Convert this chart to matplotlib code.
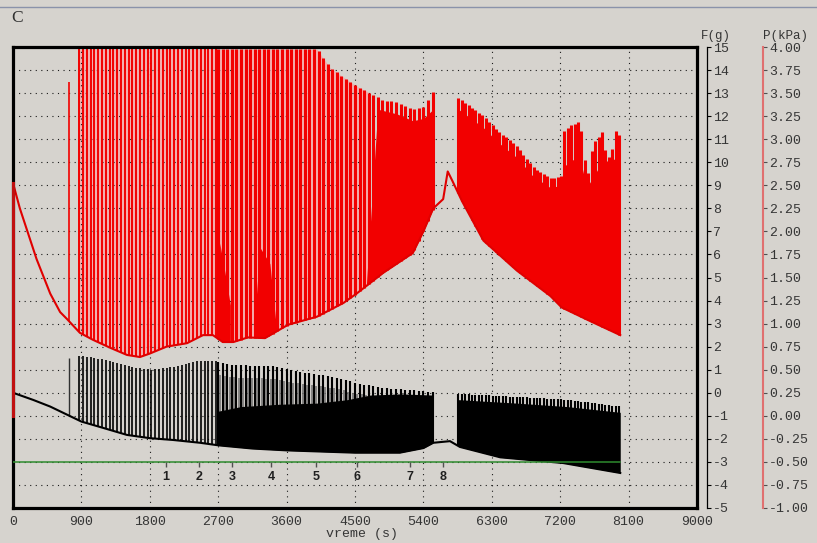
import numpy as np
import matplotlib
matplotlib.use('Agg')
import matplotlib.pyplot as plt
from matplotlib.lines import Line2D

plt.rcParams['axes.unicode_minus'] = False

# ---------------- data ----------------
x_ticks = [0, 900, 1800, 2700, 3600, 4500, 5400, 6300, 7200, 8100, 9000]
x_ticklabels = ['0', '900', '1800', '2700', '3600', '4500', '5400', '6300', '7200', '8100', '9000']
f_ticks = list(range(-5, 16))
p_ticks = [-1.0, -0.75, -0.5, -0.25, 0.0, 0.25, 0.5, 0.75, 1.0, 1.25, 1.5, 1.75,
           2.0, 2.25, 2.5, 2.75, 3.0, 3.25, 3.5, 3.75, 4.0]

# red trace (pressure), expressed on the F scale (-5..15 g  <->  -1..4 kPa)
red_lo_t = [0, 90, 180, 310, 490, 620, 710, 880, 1050, 1280, 1500, 1670, 1800, 2020,
            2290, 2500, 2630, 2760, 2900, 3090, 3315, 3620, 4000, 4350, 4520, 4870,
            5260, 5400, 5530, 5660, 5720, 5780, 5910, 6190, 6630, 7070, 7220, 7600, 7990]
red_lo = [9.1, 8.0, 7.1, 5.8, 4.3, 3.5, 3.2, 2.6, 2.3, 1.95, 1.64, 1.55, 1.7, 2.0,
          2.15, 2.5, 2.5, 2.2, 2.2, 2.4, 2.37, 2.95, 3.3, 3.9, 4.3, 5.2,
          6.06, 7.0, 8.0, 8.4, 9.6, 9.2, 8.3, 6.6, 5.3, 4.2, 3.7, 3.1, 2.5]
red_hi_t = [870, 4000, 4170, 4520, 4870, 5050, 5260, 5400, 5550, 5620, 5860, 6190, 6370,
            6630, 6840, 7070, 7220, 7240, 7330, 7450, 7500, 7550, 7630, 7750, 7820,
            7880, 7945, 7990]
red_hi = [14.9, 14.9, 14.1, 13.3, 12.7, 12.6, 12.3, 12.4, 13.2, 13.0, 12.8, 12.0, 11.4,
          10.7, 9.8, 9.3, 9.4, 11.3, 11.6, 11.75, 11.1, 9.1, 10.8, 11.3, 10.1,
          10.5, 11.6, 11.0]
# top of the saturated (solid) red band
red_core_t = [2700, 2720, 2790, 2860, 3170, 3250, 3380, 3460, 4650, 4800, 5050, 5260,
              5400, 5530, 5860, 6190, 6370, 6630, 6840, 7070, 7220, 7240, 7450, 7550,
              7750, 7990]
red_core = [2.4, 6.5, 5.2, 3.8, 2.8, 6.3, 5.6, 3.0, 4.7, 12.3, 12.1, 11.8,
            11.9, 12.3, 12.3, 11.5, 10.9, 10.2, 9.4, 8.9, 9.0, 9.8, 10.3, 8.9,
            10.0, 10.2]
red_solid_seg = [(2700, 2860), (3170, 3460), (4650, 5530), (5860, 7990)]
red_start_bottom = -1.0          # jump at t = 0
first_spike_t = 740
red_first_spike = 13.5
blk_first_spike = 1.5

# black trace (force)
blk_lo_t = [0, 265, 490, 900, 1140, 1500, 1800, 2110, 2460, 2700, 3150, 3600, 4500,
            5090, 5400, 5530, 5750, 5880, 6410, 7240, 7990]
blk_lo = [0.0, -0.31, -0.6, -1.25, -1.48, -1.83, -1.97, -2.05, -2.17, -2.28, -2.42,
          -2.5, -2.6, -2.6, -2.4, -2.17, -2.1, -2.35, -2.8, -3.05, -3.48]
blk_hi_t = [870, 1100, 1350, 1600, 1800, 2070, 2460, 2700, 2900, 3430, 3780, 4210,
            4520, 4870, 5310, 5530, 5860, 6630, 7290, 7990]
blk_hi = [1.6, 1.5, 1.3, 1.1, 1.0, 1.1, 1.4, 1.35, 1.2, 1.15, 0.9, 0.7,
          0.42, 0.2, 0.1, 0.03, -0.05, -0.18, -0.3, -0.6]
# top of the solid black band
blk_core_t = [2700, 3000, 3500, 4000, 4400, 4700, 5100, 5530, 5860, 6630, 7290, 7990]
blk_core = [-0.8, -0.6, -0.5, -0.45, -0.3, -0.1, -0.05, -0.1, -0.3, -0.45, -0.6, -0.85]
blk_solid_seg = [(2700, 5530), (5860, 7990)]

# spiking segments: start, end, spike interval (s)
seg_start = [870, 2700, 5860]
seg_end = [2700, 5530, 7990]
seg_period = [50, 60, 45]
pink_seg = (870, 4700)

# event markers on the green line
green_level = -3.0
green_end = 7990
event_t = [2013, 2447, 2882, 3395, 3987, 4526, 5224, 5658]
event_lbl = ['1', '2', '3', '4', '5', '6', '7', '8']

# ---------------- styling ----------------
BG = '#d6d3ce'
RED = '#f20000'
PINK = '#f2aeae'
MONO = 'Liberation Mono'
TXT = '#353535'

W_PX, H_PX = 817, 543
L, R, T, Bt = 13, 697, 47, 508

fig = plt.figure(figsize=(W_PX / 100, H_PX / 100), dpi=100, facecolor=BG)
ax = fig.add_axes([L / W_PX, 1 - Bt / H_PX, (R - L) / W_PX, (Bt - T) / H_PX])
ax.set_facecolor(BG)
ax.set_xlim(0, 9000)
ax.set_ylim(-5, 15)

for y in range(-4, 15):
    ax.axhline(y, color='#1a1a1a', lw=0.8, ls=(0, (1, 4)), zorder=1)
for x in x_ticks[1:-1]:
    ax.axvline(x, color='#1a1a1a', lw=0.8, ls=(0, (1, 4)), zorder=1)


def env(t, kt, kv):
    return np.interp(t, kt, kv)


def knots_in(a, b, *lists):
    ks = set([a, b])
    for lst in lists:
        ks.update(t for t in lst if a <= t <= b)
    return np.array(sorted(ks))


segs = [np.arange(s, e, p) for s, e, p in zip(seg_start, seg_end, seg_period)]
spikes = np.concatenate(segs)
sp_sparse = segs[0]
sp_dense = np.concatenate(segs[1:])
sp_half = np.concatenate([s[:-1] + p / 2 for s, p in zip(segs[1:], seg_period[1:])])

# --- red trace ---
pt = knots_in(pink_seg[0], pink_seg[1], red_lo_t, red_hi_t)
ax.fill_between(pt, env(pt, red_lo_t, red_lo), env(pt, red_hi_t, red_hi),
                color=PINK, lw=0, zorder=0.8)
for a, b in red_solid_seg:
    st = knots_in(a, b, red_lo_t, red_hi_t, red_core_t)
    lo_ = env(st, red_lo_t, red_lo)
    ax.fill_between(st, lo_, np.maximum(env(st, red_core_t, red_core), lo_),
                    color=RED, lw=0, zorder=1.5)
ax.vlines(sp_sparse, env(sp_sparse, red_lo_t, red_lo), env(sp_sparse, red_hi_t, red_hi),
          color=RED, lw=1.4, zorder=2)
ax.vlines(sp_dense, env(sp_dense, red_lo_t, red_lo), env(sp_dense, red_hi_t, red_hi),
          color=RED, lw=2.2, zorder=2)
ax.vlines([first_spike_t], env(first_spike_t, red_lo_t, red_lo), red_first_spike,
          color=RED, lw=1.2, zorder=2)
ax.plot(red_lo_t, red_lo, color='#e00000', lw=1.5, zorder=2.1)
ax.plot([0, 0], [red_start_bottom, red_lo[0]], color='#c01010', lw=2.2, zorder=3, clip_on=False)

# --- black trace ---
blo_h = env(sp_half, blk_lo_t, blk_lo)
ax.vlines(sp_half, blo_h, blo_h + 0.85 * (env(sp_half, blk_hi_t, blk_hi) - blo_h),
          color='#6e6e6e', lw=1.1, zorder=1.4)
for a, b in blk_solid_seg:
    st = knots_in(a, b, blk_lo_t, blk_core_t)
    lo_ = env(st, blk_lo_t, blk_lo)
    ax.fill_between(st, lo_, np.maximum(env(st, blk_core_t, blk_core), lo_),
                    color='black', lw=0, zorder=1.5)
ax.vlines(sp_sparse, env(sp_sparse, blk_lo_t, blk_lo), env(sp_sparse, blk_hi_t, blk_hi),
          color='black', lw=1.2, zorder=2)
ax.vlines(sp_dense, env(sp_dense, blk_lo_t, blk_lo), env(sp_dense, blk_hi_t, blk_hi),
          color='black', lw=1.5, zorder=2)
ax.vlines([first_spike_t], env(first_spike_t, blk_lo_t, blk_lo), blk_first_spike,
          color='#303030', lw=1.0, zorder=2)
ax.plot(blk_lo_t, blk_lo, color='black', lw=1.5, zorder=2.1)

# --- green line and events ---
ax.plot([0, green_end], [green_level, green_level], color='#2e8b2e', lw=1.1, zorder=3)
ax.vlines(event_t, green_level - 0.22, green_level, color='#505050', lw=1.0, zorder=3)
for t, s in zip(event_t, event_lbl):
    ax.text(t, green_level - 0.65, s, ha='center', va='center', fontsize=9,
            fontweight='bold', family='Liberation Sans', color='#202020', zorder=3)

# frame
for s in ax.spines.values():
    s.set_linewidth(2.3)
    s.set_color('black')
    s.set_zorder(2.5)
ax.set_yticks([])
ax.set_xticks(x_ticks)
ax.set_xticklabels(x_ticklabels, family=MONO, fontsize=9.5, color=TXT)
ax.tick_params(axis='x', length=0, pad=6)
fig.text(362 / W_PX, 1 - 534 / H_PX, 'vreme (s)', family=MONO, fontsize=9.5,
         color=TXT, ha='center', va='center')

# F axis
ax2 = ax.twinx()
ax2.set_ylim(-5, 15)
for k in ['top', 'left', 'bottom']:
    ax2.spines[k].set_visible(False)
ax2.spines['right'].set_position(('axes', 1 + 10 / (R - L)))
ax2.spines['right'].set_linewidth(0.9)
ax2.spines['right'].set_color('black')
ax2.set_yticks(f_ticks)
ax2.set_yticklabels([str(v) for v in f_ticks], family=MONO, fontsize=9.5, color=TXT)
ax2.tick_params(axis='y', length=3, width=0.8, pad=1.5, color='black')

# P axis
ax3 = ax.twinx()
ax3.set_ylim(-1, 4)
for k in ['top', 'left', 'bottom']:
    ax3.spines[k].set_visible(False)
ax3.spines['right'].set_position(('axes', (763 - L) / (R - L)))
ax3.spines['right'].set_linewidth(1.5)
ax3.spines['right'].set_color('#e07070')
ax3.set_yticks(p_ticks)
ax3.set_yticklabels(['%.2f' % v for v in p_ticks], family=MONO, fontsize=9.5, color=TXT)
ax3.tick_params(axis='y', length=3, width=0.8, pad=1.5, color='#505050')

fig.text(716 / W_PX, 1 - 36 / H_PX, 'F(g)', family=MONO, fontsize=9, color=TXT,
         ha='center', va='center')
fig.text(786 / W_PX, 1 - 36 / H_PX, 'P(kPa)', family=MONO, fontsize=9, color=TXT,
         ha='center', va='center')
fig.text(17 / W_PX, 1 - 18 / H_PX, 'C', family='Liberation Serif', fontsize=12.5,
         color='#303030', ha='center', va='center')
fig.add_artist(Line2D([0, 1], [1 - 7 / H_PX, 1 - 7 / H_PX], color='#8a92aa', lw=1.0))

fig.savefig('out.png', dpi=100, facecolor=BG)
